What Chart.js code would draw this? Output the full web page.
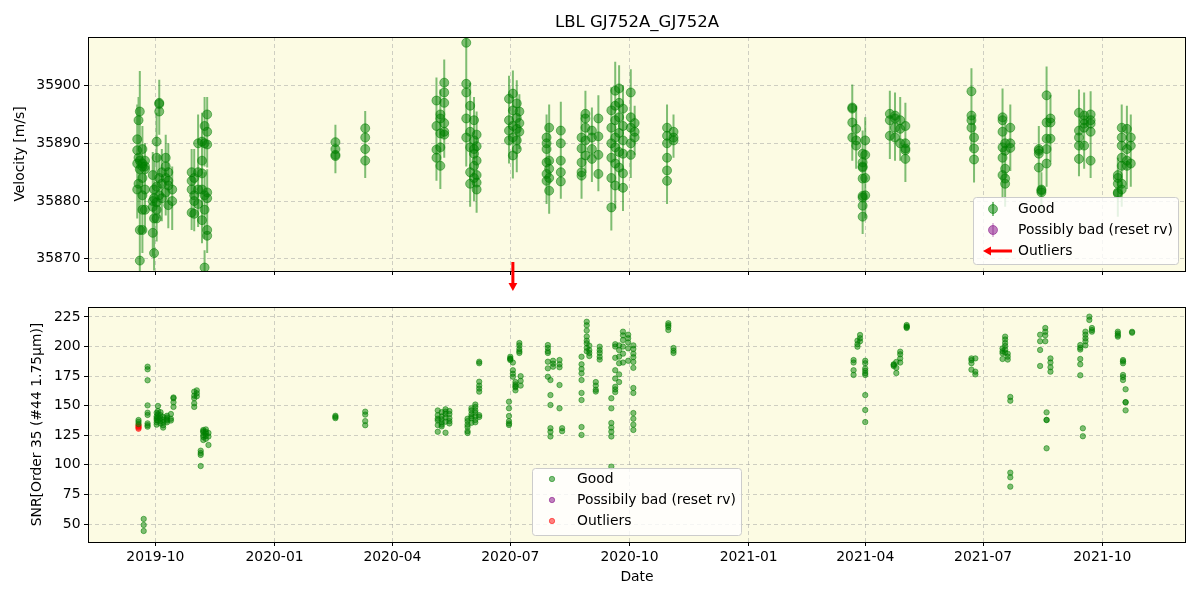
<!DOCTYPE html>
<html>
<head>
<meta charset="utf-8">
<script src="https://cdn.jsdelivr.net/npm/chart.js@4.4.0/dist/chart.umd.min.js"></script>
<style>
  body { margin: 0; background: #fff; }
  #top { position: absolute; left: 0; top: 0; width: 1200px; height: 300px; }
  #bottom { position: absolute; left: 0; top: 285px; width: 1200px; height: 315px; }
</style>
</head>
<body>
<div id="top"><canvas id="rvChart"></canvas></div>
<div id="bottom"><canvas id="snrChart"></canvas></div>
<script>
// ---- data ----
var xRange = ['2019-08-10', '2021-12-04T15:00:00Z'];
var dateTicks = ['2019-10-01', '2020-01-01', '2020-04-01', '2020-07-01', '2020-10-01',
                 '2021-01-01', '2021-04-01', '2021-07-01', '2021-10-01'];
var dateTickLabels = ['2019-10', '2020-01', '2020-04', '2020-07', '2020-10',
                      '2021-01', '2021-04', '2021-07', '2021-10'];
var rvTicks = [35870, 35880, 35890, 35900];
var snrTicks = [50, 75, 100, 125, 150, 175, 200, 225];

var rvNights = ['2019-09-17','2019-09-18','2019-09-19','2019-09-21','2019-09-23','2019-09-29','2019-09-30',
  '2019-10-02','2019-10-04','2019-10-06','2019-10-09','2019-10-11','2019-10-14','2019-10-29','2019-10-31',
  '2019-11-03','2019-11-06','2019-11-08','2019-11-10','2020-02-17','2020-03-11','2020-05-05','2020-05-08',
  '2020-05-11','2020-05-28','2020-05-31','2020-06-03','2020-06-05','2020-06-30','2020-07-03','2020-07-06',
  '2020-07-08','2020-07-29','2020-07-31','2020-08-09','2020-08-25','2020-08-28','2020-09-02','2020-09-07',
  '2020-09-17','2020-09-20','2020-09-23','2020-09-26','2020-10-02','2020-10-05','2020-10-30','2020-11-04',
  '2021-03-22','2021-03-25','2021-03-30','2021-04-01','2021-04-20','2021-04-24','2021-04-28','2021-05-02',
  '2021-06-22','2021-06-24','2021-07-16','2021-07-18','2021-07-22','2021-08-13','2021-08-15','2021-08-19',
  '2021-08-22','2021-09-13','2021-09-17','2021-09-22','2021-10-13','2021-10-16','2021-10-20','2021-10-23'];
var rvValues = [
  [35886.5,35890.7,35888.8,35882],[35894,35887.5,35883],[35895.5,35887,35885.5,35869.7,35875],
  [35886,35884,35881,35878.5,35875,35886.5,35889],[35886,35882,35878.5,35885.5,35887],
  [35884.5,35880,35874.5,35879],[35877,35871,35880.5,35882],[35887.5,35882.5,35878.5,35877,35890.3,35879.8],
  [35897,35895.5,35896.8,35881,35884],[35885,35883,35880.5],[35887.5,35886,35884,35881.5],
  [35885,35882.7,35879.3,35883.5],[35882,35880],[35885,35882,35878,35883.5],[35884,35881,35877.8,35880],
  [35882,35879.5,35885,35890],[35890.3,35887,35884.8,35882,35876.7],[35890,35893,35881,35878.5,35868.5],
  [35895,35892,35889.8,35881.5,35875,35874,35880.5],[35890.2,35889,35888,35887.8],[35892.6,35891,35889,35887],
  [35897.4,35893,35888.9,35887.5],[35894.3,35891.7,35889.3,35886.1,35895],[35898.8,35900.5,35897,35892,35891.5,35893.5],
  [35907.4,35900.3,35898.8,35894.3,35891],[35896.5,35892,35889.3,35885,35883],[35894,35890.5,35888.2,35886.1,35884,35889],
  [35891.5,35887,35883.2,35882,35884.5,35889.5],[35897.7,35894,35892.2,35890.5],[35898.6,35895.7,35893,35891,35887.9],
  [35896.9,35894.4,35892.5,35890.5,35889],[35895.5,35893.5,35892],[35891,35889,35886.7,35884.7,35883.5,35890],
  [35892.7,35887,35885.6,35881.8,35884],[35892.2,35890,35887,35885,35883.4],[35891,35889.1,35886.7,35885,35884.4],
  [35895.1,35894.3,35892.7,35890.5,35887.9],[35892.2,35891,35889,35887.3],[35894.3,35891.2,35888,35884.7],
  [35895.7,35892.7,35890,35887.5,35884,35878.9],[35899.1,35896.5,35894,35891,35889.3,35886.5,35882.7],
  [35899.5,35897,35894.5,35891.8,35888.5,35885.8],[35896,35893,35890.5,35888.2,35884.8,35882.3],
  [35898.8,35894.5,35892.7,35890,35888],[35892,35893.5,35891],[35892.7,35891.3,35890,35887.5,35885.3,35883.5],
  [35892,35891,35890.5],[35896.2,35896,35893.6,35891],[35892.5,35889.6,35890.5],
  [35888.2,35886.7,35885.8,35883.9,35880.9,35880.6,35879.2,35877.3,35886],[35890.5,35888,35884,35881],
  [35895.1,35894,35891.3],[35894.8,35892.7,35891,35894.3],[35894,35892.5,35890],[35893,35890,35889.1,35887.3,35888.8],
  [35899,35894.8,35894,35892.7],[35891,35889.1,35887.2],[35894.5,35894,35892,35889.3,35887.5,35884.5],
  [35890,35888.7,35885.6,35883.9,35883],[35892.7,35890,35889.2],[35889,35888.7,35885.8,35888.2],
  [35882,35881.5,35881.8],[35898.3,35893.6,35890.8,35889,35886.5],[35894.3,35893.6,35890.8],
  [35895.3,35892.2,35891,35889.6,35887.3],[35894.8,35894,35893.4,35892.7,35889.6],[35895,35894,35893.4,35892,35887],
  [35884,35884.5,35881.3,35881.5,35883],[35892.7,35891,35889.6,35887.5,35886.1,35883,35882],
  [35892.5,35889,35886.1,35887],[35891,35889.6,35886.5]];
var rvErrors = [
  [5,6,6,5],[4,6,5],[7,9,6,6,5],[7,6,5,5,4,6,4],[4,5,4,4,3],[4,5,4,4],[4,3,5,5],[4,5,4,4,5,4],
  [4,4,3,4,4],[4,5,4],[4,5,4,4],[5,4,4,4],[4,5],[4,3,3,4],[5,4,3,4],[4,4,4,5],[5,4,5,4,4],[4,5,4,5,3],
  [3,4,4,4,4,3,4],[3,3,3,3],[3,3,3,3],[4,4,4,4],[5,4,4,4,4],[4,4,3,4,4,3],[6,5,5,5,5],[4,5,5,4,4],
  [4,4,4,4,4,4],[4,4,4,4,3,4],[4,4,4,4],[4,4,4,4,4],[4,4,3,4,4],[3,4,3],[4,4,4,4,4,4],[4,4,4,4,4],
  [5,4,4,3,3],[4,4,4,4,4],[4,4,4,4,3],[4,4,4,4],[4,4,4,3],[4,5,4,4,4,4],[5,4,5,4,4,4,4],[4,4,4,4,4,4],
  [4,4,4,4,4,4],[4,4,4,4,4],[3,3,3],[4,4,4,4,4,4],[3,3,3],[4,4,4,4],[4,4,3],[4,4,4,4,4,3,4,3,4],
  [4,4,4,4],[4,4,4],[4,4,4,4],[4,4,3],[4,4,4,4,3],[4,4,4,4],[4,4,4],[5,5,4,4,4,4],[4,5,4,4,4],[4,4,4],
  [4,4,4,3],[3,3,3],[5,4,4,4,4],[4,4,4],[4,4,4,4,3],[4,4,4,4,4],[4,4,4,4,3],[3,3,4,3,3],
  [4,4,4,4,4,3,3],[4,4,4,4],[4,4,4]];
var rvOutlierDates = ['2020-07-03'];

var snrNights = ['2019-09-18','2019-09-22','2019-09-25','2019-10-02','2019-10-03','2019-10-05','2019-10-07',
  '2019-10-10','2019-10-13','2019-10-15','2019-10-31','2019-11-02','2019-11-05','2019-11-07','2019-11-09',
  '2019-11-11','2020-02-17','2020-03-11','2020-05-06','2020-05-09','2020-05-12','2020-05-15','2020-05-29',
  '2020-06-01','2020-06-04','2020-06-07','2020-06-30','2020-07-01','2020-07-03','2020-07-05','2020-07-08',
  '2020-07-09','2020-07-30','2020-08-01','2020-08-03','2020-08-08','2020-08-10','2020-08-25','2020-08-29',
  '2020-08-31','2020-09-05','2020-09-08','2020-09-17','2020-09-20','2020-09-23','2020-09-26','2020-09-30',
  '2020-10-04','2020-10-31','2020-11-04','2021-03-23','2021-03-26','2021-03-28','2021-04-01','2021-04-23',
  '2021-04-25','2021-04-28','2021-05-03','2021-06-22','2021-06-25','2021-07-16','2021-07-18','2021-07-20',
  '2021-07-22','2021-08-14','2021-08-18','2021-08-19','2021-08-22','2021-09-14','2021-09-16','2021-09-18',
  '2021-09-21','2021-09-23','2021-10-13','2021-10-17','2021-10-19','2021-10-24'];
var snrValues = [
  [137.9,136.3,134.5],[54.3,49.2,44.1],[183,180.8,171.5,150.3,144.1,142.2,135.1,132.3,133.5],
  [144,141,138,136,134,139.5],[149.8,145.5,142.8,140.2,137.5],[144.5,142,139.5,137,135],[140.5,138,136,133.5,131.5],
  [137.5,136,140,141.5,138.5],[143,139,137.5],[156.3,152.9,149,157],[161.9,158.5,156.3,152,149],[163,160.5,158],
  [112,110,108.4,99],[129.5,127.5,125,123.5,121,128.5],[130,128,126.5,124.5,122],[127,124,116.8],
  [141.5,140.5,139.5],[145,142.5,137,133.5],[146,142,139,137.5,133.6,128],[144.5,141,138.5,136,134,132.5],
  [147,145,143,140,136.5,127.2],[145.5,143,139.5,137,135],[139,137,134,132,128.5,127],[148,146,143,141,139.5,135.5],
  [151,149,146,144,141,138,136],[187.2,185.9,170.3,167,164.5,161.9,142,140.5],[153.4,147.8,141.3,137,133.7,135],
  [191.4,190,188.6,189.5],[180,177,174.5,186.5],[170,168,165.5,163,166.5],[203,201,198,194.6,196],[175,171,167],
  [201.3,198.8,196,194.6,187.2,181.6,174.5],[171.7,159,150.6,131,128,124],[188,185.5,183],[167.5,147.8,185,188.6,182.5],
  [131,128.5],[191.4,185,181,177.4,171.7,160.8,154.8,132,125.3],[221,218,213.5,208.5,205,202.8,199,196],
  [200.8,197,194.6,192],[170,167,163.5,162],[199.9,197,194.6,191.4,189],[156.3,147.8,135.4,131.5,128,124,98.5],
  [202,200,190.5,180,173,166,161.5,163.8],[201,197,191.5,185.9,176.5,170],[212.6,209.5,205.5,200,194,186.5],
  [210,207,203.5,198.5,188],[201,198,194,191,187,182,165,160.8,143.8,139,134,129.5],[219.7,218,216.5,214],
  [198.8,196.5,194.6],[188.6,186.5,180,176],[205,202,199.9],[209.8,207,204.5],
  [188,185.9,181.5,179.5,177.5,176,159,146.4,136.2],[185,183.5,184.5],[177.6,182,187],[195.7,193.5,190,186.5],
  [218.2,217,216.5,215.7],[190,188.5,185.9,180.5],[190,178.8,176.5],[189.5,198.5,196,194.3],
  [208.4,206,203,200.5,197.5,195],[194,191.5,189],[157.4,154.2,93.4,89.5,81.6],[210,204.5,197.1,183.6],
  [215.7,212.5,209.5,204.5],[144.4,137.9,138,114],[190,186.5,182.5,178.8],[201.3,199,197.5,189.5,185,175.7],
  [130.9,124.2],[212.6,210,207,204.5,201],[225.3,222.5],[215.7,214,212.6],[212.6,211,209.5,208.4],
  [188.6,187.5,185.9,176,174.2,171.7],[163.9,152.9,146.1,153],[211.7,212.5]];
var snrOutlierNights = ['2019-09-18'];
var snrOutlierValues = [[130.5, 131.5, 132.5, 133.5]];

// ---- helpers ----
var FONT = 'DejaVu Sans';
Chart.defaults.font.family = FONT;
Chart.defaults.font.size = 13.9;
Chart.defaults.color = '#000';

function ms(s) { return Date.parse(s); }

function toPoints(nights, values) {
  var pts = [];
  nights.forEach(function (n, i) {
    values[i].forEach(function (v) { pts.push({x: ms(n), y: v}); });
  });
  return pts;
}

function toErrorBars(nights, values, errors) {
  var pts = [];
  nights.forEach(function (n, i) {
    values[i].forEach(function (v, j) {
      pts.push({x: ms(n), y: v - errors[i][j]});
      pts.push({x: ms(n), y: v + errors[i][j]});
      pts.push({x: ms(n), y: null});
    });
  });
  return pts;
}

var GREEN = 'rgba(0,128,0,0.5)';
var PURPLE = 'rgba(128,0,128,0.5)';
var RED = 'rgba(255,0,0,0.5)';

function xAxis(showLabels, height) {
  return {
    type: 'linear',
    min: ms(xRange[0]),
    max: ms(xRange[1]),
    afterBuildTicks: function (s) { s.ticks = dateTicks.map(function (d) { return {value: ms(d)}; }); },
    afterFit: function (s) { s.height = height; },
    ticks: {
      display: showLabels,
      padding: 3,
      maxRotation: 0,
      autoSkip: false,
      callback: function (v) { return dateTickLabels[dateTicks.map(ms).indexOf(v)]; }
    },
    grid: { color: 'rgba(150,150,150,0.45)', tickLength: 4, tickColor: '#000', tickWidth: 1 },
    border: { display: false, dash: [4, 3] },
    title: { display: showLabels, text: 'Date', padding: {top: 0, bottom: 14.7} }
  };
}

function yAxis(min, max, ticks, label, titlePad) {
  return {
    min: min, max: max,
    afterBuildTicks: function (s) { s.ticks = ticks.map(function (v) { return {value: v}; }); },
    afterFit: function (s) { s.width = 88; },
    ticks: { padding: 3.5, callback: function (v) { return String(v); } },
    grid: { color: 'rgba(150,150,150,0.45)', tickLength: 4, tickColor: '#000', tickWidth: 1 },
    border: { display: false, dash: [4, 3] },
    title: { display: true, text: label, padding: {top: titlePad, bottom: 0} }
  };
}

var panelStyle = {
  id: 'panelStyle',
  beforeDraw: function (chart) {
    var a = chart.chartArea, c = chart.ctx;
    c.save();
    c.fillStyle = 'rgb(252,251,227)';
    c.fillRect(a.left, a.top, a.right - a.left, a.bottom - a.top);
    c.restore();
  },
  afterDraw: function (chart) {
    var a = chart.chartArea, c = chart.ctx;
    c.save();
    c.strokeStyle = '#000';
    c.lineWidth = 1;
    c.strokeRect(a.left + 0.5, a.top + 0.5, a.right - a.left - 1, a.bottom - a.top);
    c.restore();
  }
};

function legendBox(c, x, y, w, h) {
  c.save();
  c.beginPath();
  c.roundRect(x + 0.5, y + 0.5, w, h, 3);
  c.fillStyle = 'rgba(255,255,255,0.8)';
  c.fill();
  c.strokeStyle = '#cccccc';
  c.lineWidth = 1;
  c.stroke();
  c.restore();
}

function dot(c, x, y, r, col) {
  c.beginPath();
  c.arc(x, y, r, 0, Math.PI * 2);
  c.fillStyle = col;
  c.fill();
  c.strokeStyle = col;
  c.lineWidth = 1;
  c.stroke();
}

function arrow(c, x0, y0, x1, y1, head, width) {
  var ang = Math.atan2(y1 - y0, x1 - x0);
  var bx = x1 - Math.cos(ang) * head, by = y1 - Math.sin(ang) * head;
  c.save();
  c.strokeStyle = 'red';
  c.fillStyle = 'red';
  c.lineWidth = width;
  c.beginPath();
  c.moveTo(x0, y0);
  c.lineTo(bx, by);
  c.stroke();
  c.beginPath();
  c.moveTo(x1, y1);
  c.lineTo(bx + Math.sin(ang) * head * 0.55, by - Math.cos(ang) * head * 0.55);
  c.lineTo(bx - Math.sin(ang) * head * 0.55, by + Math.cos(ang) * head * 0.55);
  c.closePath();
  c.fill();
  c.restore();
}

var rvDecor = {
  id: 'rvDecor',
  afterDraw: function (chart) {
    var c = chart.ctx, a = chart.chartArea, xs = chart.scales.x;
    // title
    c.save();
    c.font = '16.5px ' + FONT;
    c.fillStyle = '#000';
    c.textAlign = 'center';
    c.textBaseline = 'middle';
    c.fillText('LBL GJ752A_GJ752A', (a.left + a.right) / 2, 23);
    c.restore();
    // outlier arrows below the panel
    rvOutlierDates.forEach(function (d) {
      var x = xs.getPixelForValue(ms(d));
      arrow(c, x, a.bottom - 9, x, a.bottom + 20, 8, 3);
    });
    // legend
    legendBox(c, 973, 197, 205, 67);
    c.save();
    c.strokeStyle = GREEN; c.lineWidth = 2;
    c.beginPath(); c.moveTo(993, 202); c.lineTo(993, 216); c.stroke();
    dot(c, 993, 209, 4.5, GREEN);
    c.strokeStyle = PURPLE;
    c.beginPath(); c.moveTo(993, 223); c.lineTo(993, 237); c.stroke();
    dot(c, 993, 230, 4.5, PURPLE);
    c.restore();
    arrow(c, 1012, 251, 983, 251, 8, 3);
    c.save();
    c.font = '13.9px ' + FONT;
    c.fillStyle = '#000';
    c.textBaseline = 'middle';
    c.fillText('Good', 1018, 209);
    c.fillText('Possibly bad (reset rv)', 1018, 230);
    c.fillText('Outliers', 1018, 251);
    c.restore();
  }
};

var snrDecor = {
  id: 'snrDecor',
  afterDraw: function (chart) {
    var c = chart.ctx;
    // canvas starts 285px down the page
    var oy = -285;
    legendBox(c, 532, 468 + oy, 209, 67);
    dot(c, 552, 479 + oy, 2.7, GREEN);
    dot(c, 552, 500 + oy, 2.7, PURPLE);
    dot(c, 552, 521 + oy, 2.7, RED);
    c.save();
    c.font = '13.9px ' + FONT;
    c.fillStyle = '#000';
    c.textBaseline = 'middle';
    c.fillText('Good', 577, 479 + oy);
    c.fillText('Possibily bad (reset rv)', 577, 500 + oy);
    c.fillText('Outliers', 577, 521 + oy);
    c.restore();
  }
};

new Chart(document.getElementById('rvChart'), {
  type: 'scatter',
  data: {
    datasets: [{
      type: 'line',
      label: 'errors',
      data: toErrorBars(rvNights, rvValues, rvErrors),
      borderColor: GREEN,
      borderWidth: 2,
      pointRadius: 0,
      spanGaps: false,
      order: 2
    }, {
      label: 'Good',
      data: toPoints(rvNights, rvValues),
      backgroundColor: GREEN,
      borderColor: GREEN,
      borderWidth: 1,
      pointRadius: 4.5,
      order: 1
    }]
  },
  options: {
    responsive: true,
    maintainAspectRatio: false,
    animation: false,
    events: [],
    layout: { padding: {top: 37, right: 14, left: 0, bottom: 0} },
    plugins: { legend: {display: false}, tooltip: {enabled: false} },
    scales: {
      x: xAxis(false, 29),
      y: yAxis(35867.9, 35908.4, rvTicks, 'Velocity [m/s]', 12)
    }
  },
  plugins: [panelStyle, rvDecor]
});

new Chart(document.getElementById('snrChart'), {
  type: 'scatter',
  data: {
    datasets: [{
      label: 'Good',
      data: toPoints(snrNights, snrValues),
      backgroundColor: GREEN,
      borderColor: GREEN,
      borderWidth: 1,
      pointRadius: 2.7
    }, {
      label: 'Outliers',
      data: toPoints(snrOutlierNights, snrOutlierValues),
      backgroundColor: RED,
      borderColor: RED,
      borderWidth: 1,
      pointRadius: 2.7
    }]
  },
  options: {
    responsive: true,
    maintainAspectRatio: false,
    animation: false,
    events: [],
    layout: { padding: {top: 22, right: 14, left: 0, bottom: 0} },
    plugins: { legend: {display: false}, tooltip: {enabled: false} },
    scales: {
      x: xAxis(true, 58),
      y: yAxis(34.8, 233.45, snrTicks, 'SNR[Order 35 (#44 1.75μm)]', 29)
    }
  },
  plugins: [panelStyle, snrDecor]
});
</script>
</body>
</html>
